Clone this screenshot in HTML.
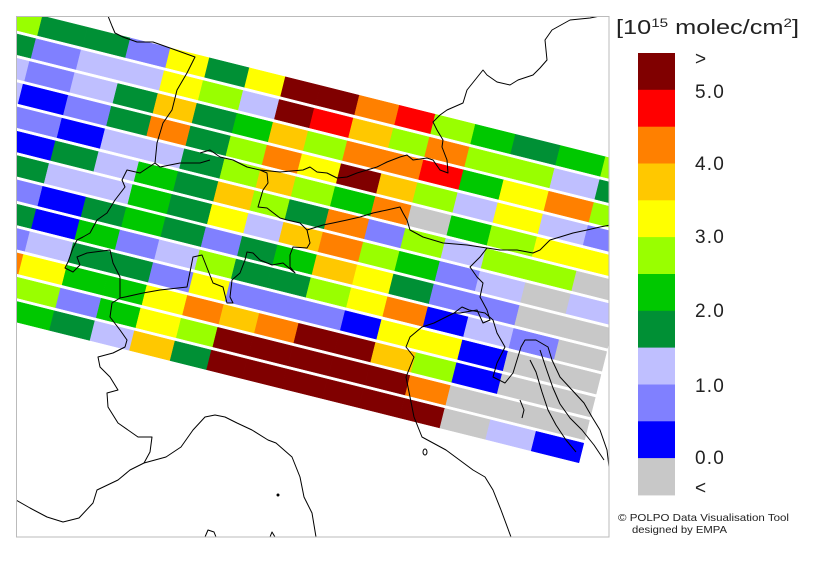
<!DOCTYPE html>
<html><head><meta charset="utf-8">
<style>
html,body{margin:0;padding:0;background:#fff;}
svg{display:block;}
text{font-family:"Liberation Sans",sans-serif;fill:#222;}
</style></head>
<body>
<svg id="s" width="813" height="566" viewBox="0 0 813 566" xmlns="http://www.w3.org/2000/svg">
<defs><clipPath id="fr"><rect x="16.5" y="16.5" width="592.5" height="520.5"/></clipPath></defs>
<rect width="813" height="566" fill="#fff"/>
<g id="cells" clip-path="url(#fr)"></g>
<g id="map" clip-path="url(#fr)" fill="none" stroke="#000" stroke-width="1" stroke-linejoin="round"></g>
<rect x="16.5" y="16.5" width="592.5" height="520.5" fill="none" stroke="#bbb" stroke-width="1"/>
<g id="legend"></g>
<text x="616" y="34" font-size="20" textLength="183" lengthAdjust="spacingAndGlyphs">[10<tspan font-size="12" dy="-7">15</tspan><tspan dy="7"> molec/cm</tspan><tspan font-size="12" dy="-7">2</tspan><tspan dy="7">]</tspan></text>
<text x="618" y="521" font-size="10.5" textLength="171" lengthAdjust="spacingAndGlyphs">© POLPO Data Visualisation Tool</text>
<text x="632" y="533" font-size="10.5" textLength="95" lengthAdjust="spacingAndGlyphs">designed by EMPA</text>
</svg>
<script>
var C={K:"#800000",R:"#ff0000",O:"#ff8000",G:"#ffc800",Y:"#ffff00",L:"#99ff00",N:"#00c800",D:"#009035",B:"#bfbfff",P:"#8080ff",U:"#0000ff",X:"#c8c8c8"};
var rows=["LDDPYDYKKORLNDNL","DPBBYLBKRGLOLLBD","BPBDGDNGLOORNYOL","BUPDODLOYKGLBYBP","XPUBBDLGLNOXNLYY","XUDBNDGLDOPLBLLX","XDBBNDYBGOLNPBXB","XPUDNDPDNGYDPPXX","XDUNPBLDDLYOUBPX","XPBDDPYPPPUYYUXX","XOYNNYOGOKKGLUXX","XLLPNYLKKKKKOXXX","XXNDBGDKKKKKKXBU"];
var B=[-4,40,85,128,168,207,247,283,318,357,397,433,473,513,558,603,650];
function X(r,k){return B[k]*(1+0.0012*r)-6.5*r;}
function yc(r,x){return 19.8+24.32*r+0.25*(x-16);}
var t=9.8,h="";
for(var r=0;r<rows.length;r++){for(var c=0;c<16;c++){var x0=X(r,c),x1=X(r,c+1),col=C[rows[r][c]];
var p=[[x0+0.25*t,yc(r,x0)-t],[x1+0.25*t,yc(r,x1)-t],[x1-0.25*t,yc(r,x1)+t],[x0-0.25*t,yc(r,x0)+t]];
h+='<polygon points="'+p.map(function(q){return q[0].toFixed(1)+","+q[1].toFixed(1)}).join(" ")+'" fill="'+col+'" stroke="'+col+'" stroke-width="0.5"/>';}}
document.getElementById("cells").innerHTML=h;
var lines=[
"108,16 112,26 115,33 123,37 137,42 153,42 170,48 195,57 187,73 177,90 172,110 163,123 157,143 155,163 140,173 127,170 122,180 125,187 115,200 107,213 97,220 90,233 83,237 77,240 73,248 68,262 65,268 73,272 80,265 77,257 87,253 110,250 113,263 120,277 120,298 112,303 110,317 120,330 127,340 125,347 113,353 98,357 100,367 110,377 118,390 107,393 108,407 118,423 138,437 152,437 150,452 144,463",
"155,163 160,167 180,163 200,163 210,160",
"120,298 125,297 143,293 160,290 187,287 193,257 202,255 213,283 223,287 227,303 233,303 230,297 232,280 240,273 245,260 247,252 253,253 260,260 272,265 283,263 295,273 290,267 290,255 293,247 307,248 310,243 307,230 300,223 287,220 280,218 267,208 258,207 263,190 268,183 267,173 260,170 247,167 233,160 220,157 210,150 200,153",
"307,230 323,225 333,223 347,220 360,217 373,213 387,210 400,207 403,213 407,220 410,230 423,237 443,243 467,245 487,248 500,250 517,250 533,253 540,250 550,240 560,237 573,233 587,230 600,227 610,225",
"260,170 280,172 303,170 310,167 317,172 327,173 337,178 347,177 357,173 367,170 377,167 387,162 400,157 407,155 413,160 427,158 433,160 440,170 448,173 447,160 442,147 443,140 437,130 433,122 440,115 447,110 463,103 467,90 483,70 487,75 497,82 510,85 518,80 533,75 540,68 547,60 545,40 552,30 570,20 590,18 600,16",
"487,248 480,257 470,267 477,277 483,283 480,297 487,310 490,320 483,323 477,310 460,313 454,313",
"16,500 30,508 47,517 63,522 79,518 93,503 97,490 118,480 130,470 144,463 166,457 181,447 193,430 205,417 215,415 225,417 237,423 252,430 268,440 276,443 284,450 292,457 300,477 304,497 312,513 316,537",
"454,313 434,323 422,327 410,337 406,347 414,357 406,377 410,397 414,417 422,437 446,450 473,470 485,477 493,490 501,510 511,537",
"454,313 462,307 469,310 485,313 493,320 497,333 505,347 497,363 493,377 505,383 513,373 521,347 525,340 536,340 548,347 552,360 560,377 572,390 584,403 592,417 600,430 607,450 609,467",
"530,360 536,372 542,392 548,410 556,425 566,440 576,452",
"540,350 546,368 553,388 560,404 570,418 582,430 594,445 604,460",
"520,400 524,410 522,418",
"205,537 208,530 214,532 216,537",
"270,537 272,532 275,537"
];
var m="";lines.forEach(function(l){m+='<polyline points="'+l+'"/>';});
m+='<ellipse cx="425" cy="452" rx="2" ry="3"/><circle cx="278" cy="495" r="1" fill="#000"/>';
document.getElementById("map").innerHTML=m;
var lc=["K","R","O","G","Y","L","N","D","B","P","U","X"],lg="";
for(var i=0;i<12;i++){lg+='<rect x="638" y="'+(53+i*36.83).toFixed(1)+'" width="37" height="37.3" fill="'+C[lc[i]]+'"/>';}
var labs=[[">",58],["5.0",91],["4.0",163],["3.0",236],["2.0",310],["1.0",385],["0.0",457],["<",487]];
labs.forEach(function(a){lg+='<text x="695" y="'+(a[1]+7)+'" font-size="19" letter-spacing="1.2">'+a[0].replace("<","&lt;").replace(">","&gt;")+'</text>';});
document.getElementById("legend").innerHTML=lg;
</script>
</body></html>
